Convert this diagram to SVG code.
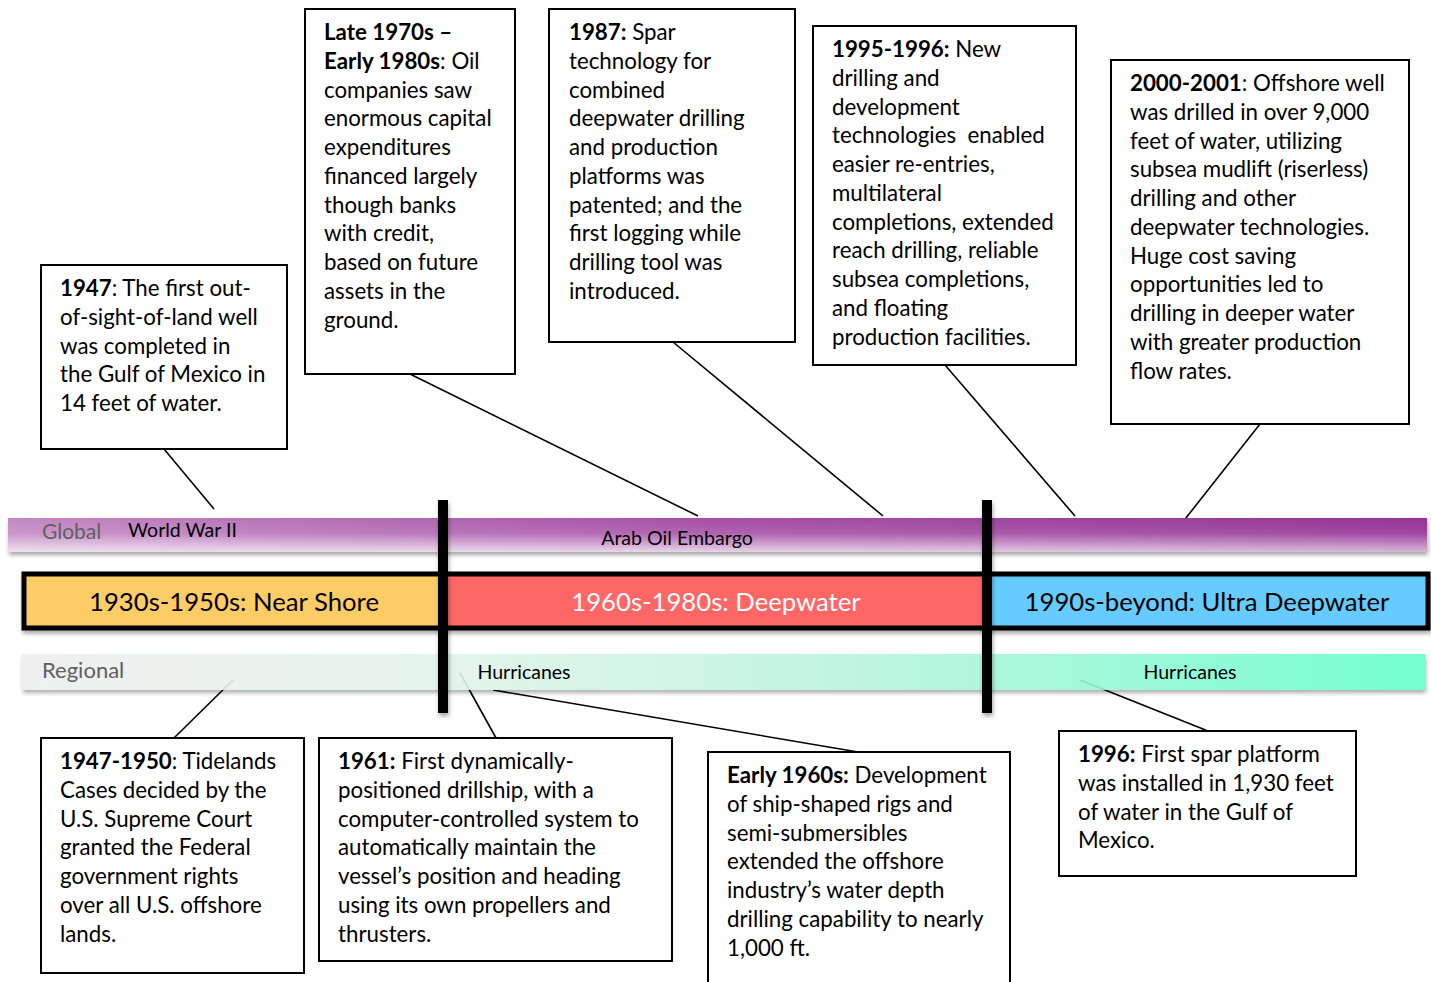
<svg xmlns="http://www.w3.org/2000/svg" width="1431" height="982" viewBox="0 0 1431 982">
<defs>
<style>
.box rect{fill:#fff;stroke:#000;stroke-width:2}
.box text{font-family:Lato,"Open Sans",sans-serif;font-size:22.3px;fill:#000}
.b{font-weight:bold}
.conn line{stroke:#000;stroke-width:1.6}
.lbl{font-family:Lato,"Open Sans",sans-serif}
</style>
<linearGradient id="gv" x1="0" y1="0" x2="0" y2="1">
<stop offset="0" stop-color="#9a3a9a"/>
<stop offset="0.45" stop-color="#a752a7"/>
<stop offset="1" stop-color="#e6cfe7"/>
</linearGradient>
<linearGradient id="gh" x1="0" y1="0" x2="1" y2="0">
<stop offset="0" stop-color="#fff" stop-opacity="0.4"/>
<stop offset="0.5" stop-color="#fff" stop-opacity="0.1"/>
<stop offset="1" stop-color="#6a006a" stop-opacity="0.12"/>
</linearGradient>
<linearGradient id="rg" x1="0" y1="0" x2="1" y2="0">
<stop offset="0" stop-color="#efefef"/>
<stop offset="0.3" stop-color="#e2f3eb"/>
<stop offset="0.6" stop-color="#b8f5de"/>
<stop offset="1" stop-color="#66ffcc"/>
</linearGradient>
<filter id="sh" x="-5%" y="-30%" width="110%" height="180%">
<feDropShadow dx="1" dy="3" stdDeviation="2" flood-color="#000" flood-opacity="0.35"/>
</filter>
</defs>
<rect width="1431" height="982" fill="#fff"/>

<g id="connectors" class="conn">
<line x1="164" y1="449" x2="214" y2="509"/>
<line x1="410" y1="374" x2="698" y2="516"/>
<line x1="673" y1="342" x2="883" y2="516"/>
<line x1="945" y1="365" x2="1075" y2="516"/>
<line x1="1260" y1="424" x2="1182" y2="523"/>
<line x1="174" y1="738" x2="233" y2="680"/>
<line x1="496" y1="738" x2="460" y2="673"/>
<line x1="858" y1="752" x2="493" y2="690"/>
<line x1="1208" y1="731" x2="1080" y2="680"/>
</g>

<g id="global-band">
<rect x="8" y="518" width="1419" height="34" fill="url(#gv)" filter="url(#sh)"/>
<rect x="8" y="518" width="1419" height="34" fill="url(#gh)"/>
<text class="lbl" x="42" y="539" font-size="21" fill="#606060">Global</text>
<text class="lbl" x="128" y="537" font-size="19.5" fill="#000">World War II</text>
<text class="lbl" x="677" y="545" font-size="19.6" fill="#000" text-anchor="middle">Arab Oil Embargo</text>
</g>

<g id="regional-band">
<rect x="22" y="654" width="1403" height="36" fill="url(#rg)" opacity="0.9" filter="url(#sh)"/>
<text class="lbl" x="42" y="678" font-size="22" fill="#606060">Regional</text>
<text class="lbl" x="524" y="679" font-size="19.5" fill="#000" text-anchor="middle">Hurricanes</text>
<text class="lbl" x="1190" y="679" font-size="19.5" fill="#000" text-anchor="middle">Hurricanes</text>
</g>

<g id="era-bar" filter="url(#sh)">
<rect x="24" y="574" width="416" height="54" fill="#ffcc66"/>
<rect x="440" y="574" width="548" height="54" fill="#ff6666"/>
<rect x="988" y="574" width="440" height="54" fill="#66ccff"/>
<rect x="24" y="574" width="1404" height="54" fill="none" stroke="#000" stroke-width="5"/>
</g>
<g id="era-labels" class="lbl" font-size="25.7" text-anchor="middle">
<text x="234" y="611" fill="#000">1930s-1950s: Near Shore</text>
<text x="716" y="611" fill="#fff">1960s-1980s: Deepwater</text>
<text x="1207" y="611" fill="#000">1990s-beyond: Ultra Deepwater</text>
</g>

<g id="dividers" filter="url(#sh)">
<rect x="438" y="500" width="10" height="213" fill="#000"/>
<rect x="982" y="500" width="10" height="213" fill="#000"/>
</g>

<g id="n1947" class="box">
<rect x="41" y="265" width="246" height="184"/>
<text><tspan x="60" y="296"><tspan class="b">1947</tspan>: The first out-</tspan><tspan x="60" dy="28.75">of-sight-of-land well</tspan><tspan x="60" dy="28.75">was completed in</tspan><tspan x="60" dy="28.75">the Gulf of Mexico in</tspan><tspan x="60" dy="28.75">14 feet of water.</tspan></text>
</g>

<g id="n1970s" class="box">
<rect x="305" y="9" width="210" height="365"/>
<text><tspan x="324" y="40" class="b">Late 1970s –</tspan><tspan x="324" dy="28.75"><tspan class="b">Early 1980s</tspan>: Oil</tspan><tspan x="324" dy="28.75">companies saw</tspan><tspan x="324" dy="28.75">enormous capital</tspan><tspan x="324" dy="28.75">expenditures</tspan><tspan x="324" dy="28.75">financed largely</tspan><tspan x="324" dy="28.75">though banks</tspan><tspan x="324" dy="28.75">with credit,</tspan><tspan x="324" dy="28.75">based on future</tspan><tspan x="324" dy="28.75">assets in the</tspan><tspan x="324" dy="28.75">ground.</tspan></text>
</g>

<g id="n1987" class="box">
<rect x="549" y="9" width="246" height="333"/>
<text><tspan x="569" y="40"><tspan class="b">1987:</tspan> Spar</tspan><tspan x="569" dy="28.75">technology for</tspan><tspan x="569" dy="28.75">combined</tspan><tspan x="569" dy="28.75">deepwater drilling</tspan><tspan x="569" dy="28.75">and production</tspan><tspan x="569" dy="28.75">platforms was</tspan><tspan x="569" dy="28.75">patented; and the</tspan><tspan x="569" dy="28.75">first logging while</tspan><tspan x="569" dy="28.75">drilling tool was</tspan><tspan x="569" dy="28.75">introduced.</tspan></text>
</g>

<g id="n1995" class="box">
<rect x="813" y="26" width="263" height="339"/>
<text><tspan x="832" y="57"><tspan class="b">1995-1996:</tspan> New</tspan><tspan x="832" dy="28.75">drilling and</tspan><tspan x="832" dy="28.75">development</tspan><tspan x="832" dy="28.75" xml:space="preserve">technologies  enabled</tspan><tspan x="832" dy="28.75">easier re-entries,</tspan><tspan x="832" dy="28.75">multilateral</tspan><tspan x="832" dy="28.75">completions, extended</tspan><tspan x="832" dy="28.75">reach drilling, reliable</tspan><tspan x="832" dy="28.75">subsea completions,</tspan><tspan x="832" dy="28.75">and floating</tspan><tspan x="832" dy="28.75">production facilities.</tspan></text>
</g>

<g id="n2000" class="box">
<rect x="1111" y="60" width="298" height="364"/>
<text><tspan x="1130" y="91"><tspan class="b">2000-2001</tspan>: Offshore well</tspan><tspan x="1130" dy="28.75">was drilled in over 9,000</tspan><tspan x="1130" dy="28.75">feet of water, utilizing</tspan><tspan x="1130" dy="28.75">subsea mudlift (riserless)</tspan><tspan x="1130" dy="28.75">drilling and other</tspan><tspan x="1130" dy="28.75">deepwater technologies.</tspan><tspan x="1130" dy="28.75">Huge cost saving</tspan><tspan x="1130" dy="28.75">opportunities led to</tspan><tspan x="1130" dy="28.75">drilling in deeper water</tspan><tspan x="1130" dy="28.75">with greater production</tspan><tspan x="1130" dy="28.75">flow rates.</tspan></text>
</g>

<g id="n1947-1950" class="box">
<rect x="41" y="738" width="263" height="235"/>
<text><tspan x="60" y="769"><tspan class="b">1947-1950</tspan>: Tidelands</tspan><tspan x="60" dy="28.75">Cases decided by the</tspan><tspan x="60" dy="28.75">U.S. Supreme Court</tspan><tspan x="60" dy="28.75">granted the Federal</tspan><tspan x="60" dy="28.75">government rights</tspan><tspan x="60" dy="28.75">over all U.S. offshore</tspan><tspan x="60" dy="28.75">lands.</tspan></text>
</g>

<g id="n1961" class="box">
<rect x="319" y="738" width="353" height="223"/>
<text><tspan x="338" y="769"><tspan class="b">1961:</tspan> First dynamically-</tspan><tspan x="338" dy="28.75">positioned drillship, with a</tspan><tspan x="338" dy="28.75">computer-controlled system to</tspan><tspan x="338" dy="28.75">automatically maintain the</tspan><tspan x="338" dy="28.75">vessel’s position and heading</tspan><tspan x="338" dy="28.75">using its own propellers and</tspan><tspan x="338" dy="28.75">thrusters.</tspan></text>
</g>

<g id="nEarly1960s" class="box">
<rect x="708" y="752" width="302" height="240"/>
<text><tspan x="727" y="783"><tspan class="b">Early 1960s:</tspan> Development</tspan><tspan x="727" dy="28.75">of ship-shaped rigs and</tspan><tspan x="727" dy="28.75">semi-submersibles</tspan><tspan x="727" dy="28.75">extended the offshore</tspan><tspan x="727" dy="28.75">industry’s water depth</tspan><tspan x="727" dy="28.75">drilling capability to nearly</tspan><tspan x="727" dy="28.75">1,000 ft.</tspan></text>
</g>

<g id="n1996" class="box">
<rect x="1059" y="731" width="297" height="145"/>
<text><tspan x="1078" y="762"><tspan class="b">1996:</tspan> First spar platform</tspan><tspan x="1078" dy="28.75">was installed in 1,930 feet</tspan><tspan x="1078" dy="28.75">of water in the Gulf of</tspan><tspan x="1078" dy="28.75">Mexico.</tspan></text>
</g>
</svg>
